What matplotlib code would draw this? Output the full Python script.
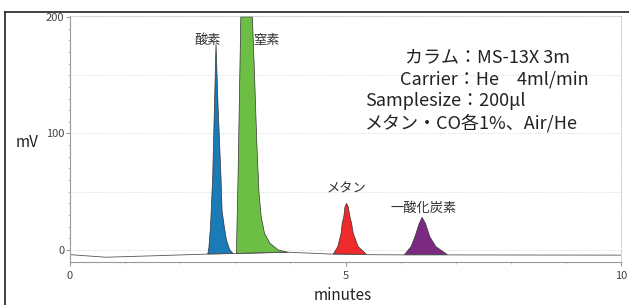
import matplotlib.pyplot as plt
from matplotlib.lines import Line2D

plt.rcParams['font.family'] = ['Noto Sans CJK JP', 'DejaVu Sans']

# baseline of the chromatogram (minutes, mV)
base_t = [0.0, 0.65, 1.5, 2.5, 3.0, 3.9, 4.75, 5.4, 6.05, 6.95, 8.0, 10.0]
base_mv = [-4.0, -6.2, -5.0, -3.5, -3.0, -1.8, -3.5, -4.0, -4.2, -4.2, -4.3, -4.4]

# peak outlines
o2_t = [2.50, 2.52, 2.55, 2.59, 2.62, 2.65, 2.69, 2.74, 2.76, 2.80, 2.84, 2.90, 2.96]
o2_mv = [-3.4, 1.7, 20, 63, 120, 177, 120, 63, 34, 20, 8.6, 0, -3.0]

n2_t = [3.02, 3.05, 3.10, 3.31, 3.35, 3.39, 3.43, 3.47, 3.53, 3.63, 3.78, 3.96]
n2_mv = [-3.0, 63, 200, 200, 149, 92, 49, 28.6, 14.3, 5.7, 0, -2.0]

ch4_t = [4.78, 4.86, 4.92, 4.94, 4.97, 4.99, 5.02, 5.05, 5.08, 5.11, 5.14, 5.23, 5.38]
ch4_mv = [-3.4, 2.9, 14.3, 23, 28.6, 37, 40, 37, 28.6, 23, 14.3, 2.9, -3.8]

co_t = [6.07, 6.19, 6.26, 6.34, 6.39, 6.45, 6.53, 6.64, 6.85]
co_mv = [-4.0, 2.9, 11.4, 23, 28, 23, 11.4, 2.9, -4.0]

peak_names = ['酸素', '窒素', 'メタン', '一酸化炭素']
peak_colors = ['#1b7bb6', '#6cbf44', '#ee2a2a', '#7a2a80']

info_lines = ['カラム：MS-13X 3m', 'Carrier：He\u30004ml/min',
              'Samplesize：200μl', 'メタン・CO各1%、Air/He']

fig = plt.figure(figsize=(6.29, 3.05), dpi=100)
ax = fig.add_axes([70 / 629, 43 / 305, 551 / 629, 246 / 305])

ax.plot(base_t, base_mv, color='#555555', lw=0.6)
peaks = [(o2_t, o2_mv), (n2_t, n2_mv), (ch4_t, ch4_mv), (co_t, co_mv)]
for (t, mv), c in zip(peaks, peak_colors):
    ax.fill(t, mv, facecolor=c, edgecolor='#333333', lw=0.5)

# peak labels
lab = dict(ha='center', va='center', fontsize=9.5, color='#333333')
ax.text(2.50, 180, peak_names[0], **lab)
ax.text(3.56, 180, peak_names[1], **lab)
ax.text(5.01, 52, peak_names[2], **lab)
ax.text(6.41, 36, peak_names[3], **lab)

ax.set_xlim(0, 10)
ax.set_ylim(-10.3, 200.8)
ax.set_xticks([0, 5, 10])
ax.set_xticks(range(11), minor=True)
ax.set_yticks([0, 100, 200])
ax.set_yticks(range(0, 201, 10), minor=True)
ax.tick_params(labelsize=8, labelcolor='#444444', color='#999999', length=3)
ax.tick_params(which='minor', length=1.5, color='#bbbbbb')
ax.tick_params(axis='y', pad=1)

for y in [0, 50, 100, 150]:
    ax.axhline(y, color='#cccccc', lw=0.6, ls=(0, (1, 2)), zorder=0)
for s in ['top', 'right']:
    ax.spines[s].set_color('#bbbbbb')
    ax.spines[s].set_linestyle((0, (1, 2)))
    ax.spines[s].set_linewidth(0.6)
for s in ['left', 'bottom']:
    ax.spines[s].set_color('#999999')
    ax.spines[s].set_linewidth(0.8)

# conditions block
fs = 13
fig.text(405 / 629, 1 - 57 / 305, info_lines[0], fontsize=fs, va='center', color='#222222')
fig.text(400 / 629, 1 - 79 / 305, info_lines[1], fontsize=fs, va='center', color='#222222')
fig.text(365 / 629, 1 - 101 / 305, info_lines[2], fontsize=fs, va='center', color='#222222')
fig.text(365 / 629, 1 - 123 / 305, info_lines[3], fontsize=fs, va='center', color='#222222')

fig.text(27 / 629, 1 - 143 / 305, 'mV', fontsize=11, ha='center', va='center', color='#222222')
fig.text(343 / 629, 1 - 296 / 305, 'minutes', fontsize=11, ha='center', va='center', color='#222222')

# outer frame
fig.add_artist(Line2D([5 / 629, 5 / 629], [0, 1 - 12 / 305], color='#222222', lw=1.2))
fig.add_artist(Line2D([5 / 629, 1], [1 - 12 / 305, 1 - 12 / 305], color='#222222', lw=1.2))

fig.savefig('out.png', dpi=100)
